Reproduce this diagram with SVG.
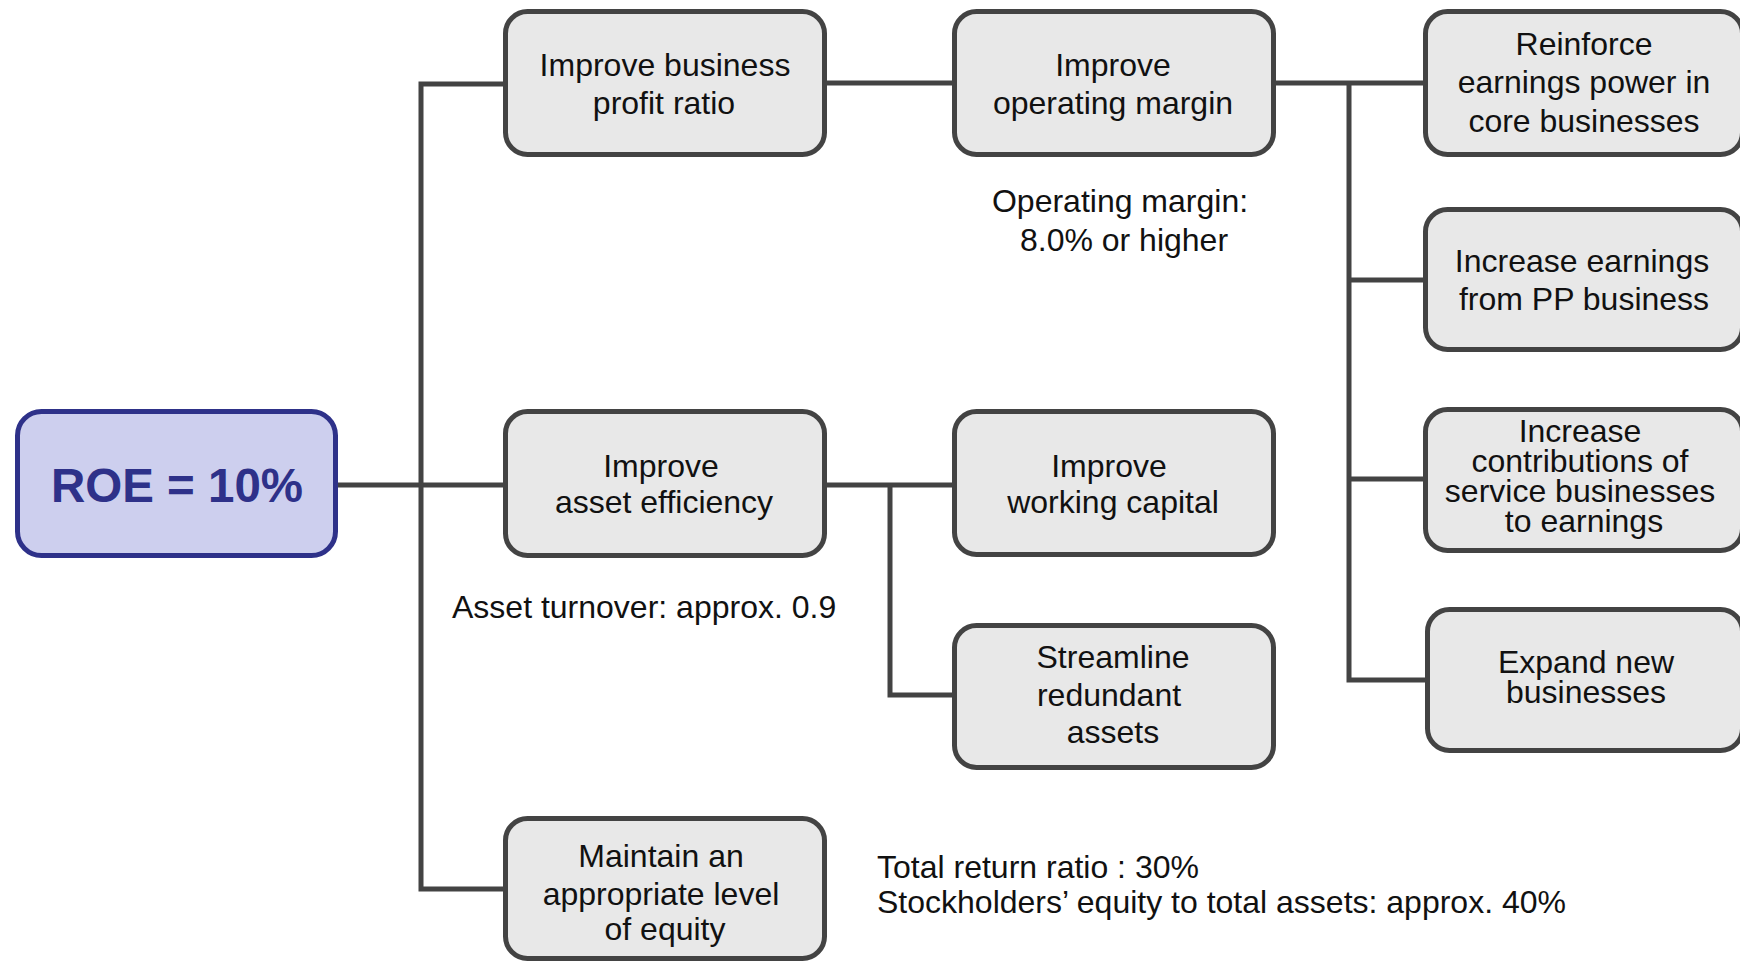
<svg xmlns="http://www.w3.org/2000/svg" width="1740" height="961" viewBox="0 0 1740 961">
  <style>
    .box { fill: #E8E8E8; stroke: #434343; stroke-width: 5; }
    .root { fill: #CDCFEE; stroke: #2E3189; stroke-width: 5; }
    .t { font-family: "Liberation Sans", Arial, sans-serif; font-size: 32px; fill: #111111; }
    .c { text-anchor: middle; }
    .rt { font-family: "Liberation Sans", Arial, sans-serif; font-size: 47.5px; font-weight: bold; fill: #2E3189; text-anchor: middle; }
    .link { fill: none; stroke: #434343; stroke-width: 5; stroke-linejoin: miter; stroke-linecap: butt; }
  </style>
  <rect width="1740" height="961" fill="#FFFFFF"/>

  <!-- connectors -->
  <g id="connectors">
    <path class="link" d="M338,485 H503"/>
    <path class="link" d="M503,84 H421 V889 H503"/>
    <path class="link" d="M827,83 H952"/>
    <path class="link" d="M1276,83 H1423"/>
    <path class="link" d="M1349,83 V680 H1425"/>
    <path class="link" d="M1349,280 H1423"/>
    <path class="link" d="M1349,479 H1423"/>
    <path class="link" d="M827,485 H952"/>
    <path class="link" d="M890,485 V695 H952"/>
  </g>

  <!-- root -->
  <g id="roe">
    <rect class="root" x="17.5" y="411.5" width="318" height="144" rx="24"/>
    <text class="rt" x="177" y="502">ROE = 10%</text>
  </g>

  <!-- first level -->
  <g id="profit-ratio">
    <rect class="box" x="505.5" y="11.5" width="319" height="143" rx="22"/>
    <text class="t c" x="665" y="76">Improve business</text>
    <text class="t c" x="664" y="114">profit ratio</text>
  </g>
  <g id="asset-efficiency">
    <rect class="box" x="505.5" y="411.5" width="319" height="144" rx="22"/>
    <text class="t c" x="661" y="477">Improve</text>
    <text class="t c" x="664" y="513">asset efficiency</text>
  </g>
  <g id="equity">
    <rect class="box" x="505.5" y="818.5" width="319" height="140" rx="22"/>
    <text class="t c" x="661" y="867">Maintain an</text>
    <text class="t c" x="661" y="905">appropriate level</text>
    <text class="t c" x="665" y="940">of equity</text>
  </g>

  <!-- second level -->
  <g id="operating-margin">
    <rect class="box" x="954.5" y="11.5" width="319" height="143" rx="22"/>
    <text class="t c" x="1113" y="76">Improve</text>
    <text class="t c" x="1113" y="114">operating margin</text>
  </g>
  <g id="working-capital">
    <rect class="box" x="954.5" y="411.5" width="319" height="143" rx="22"/>
    <text class="t c" x="1109" y="477">Improve</text>
    <text class="t c" x="1113" y="513">working capital</text>
  </g>
  <g id="redundant-assets">
    <rect class="box" x="954.5" y="625.5" width="319" height="142" rx="22"/>
    <text class="t c" x="1113" y="668">Streamline</text>
    <text class="t c" x="1109" y="706">redundant</text>
    <text class="t c" x="1113" y="743">assets</text>
  </g>

  <!-- third level -->
  <g id="core-businesses">
    <rect class="box" x="1425.5" y="11.5" width="317" height="143" rx="22"/>
    <text class="t c" x="1584" y="55">Reinforce</text>
    <text class="t c" x="1584" y="93">earnings power in</text>
    <text class="t c" x="1584" y="132">core businesses</text>
  </g>
  <g id="pp-business">
    <rect class="box" x="1425.5" y="209.5" width="317" height="140" rx="22"/>
    <text class="t c" x="1582" y="272">Increase earnings</text>
    <text class="t c" x="1584" y="310">from PP business</text>
  </g>
  <g id="service-businesses">
    <rect class="box" x="1425.5" y="409.5" width="317" height="141" rx="22"/>
    <text class="t c" x="1580" y="442">Increase</text>
    <text class="t c" x="1580" y="472">contributions of</text>
    <text class="t c" x="1580" y="502">service businesses</text>
    <text class="t c" x="1584" y="532">to earnings</text>
  </g>
  <g id="new-businesses">
    <rect class="box" x="1427.5" y="609.5" width="315" height="141" rx="22"/>
    <text class="t c" x="1586" y="673">Expand new</text>
    <text class="t c" x="1586" y="703">businesses</text>
  </g>

  <!-- target notes -->
  <g id="notes">
    <text class="t c" x="1120" y="212">Operating margin:</text>
    <text class="t c" x="1124" y="251">8.0% or higher</text>
    <text class="t" x="452" y="618">Asset turnover: approx. 0.9</text>
    <text class="t" x="877" y="878">Total return ratio : 30%</text>
    <text class="t" x="877" y="913">Stockholders’ equity to total assets: approx. 40%</text>
  </g>
</svg>
